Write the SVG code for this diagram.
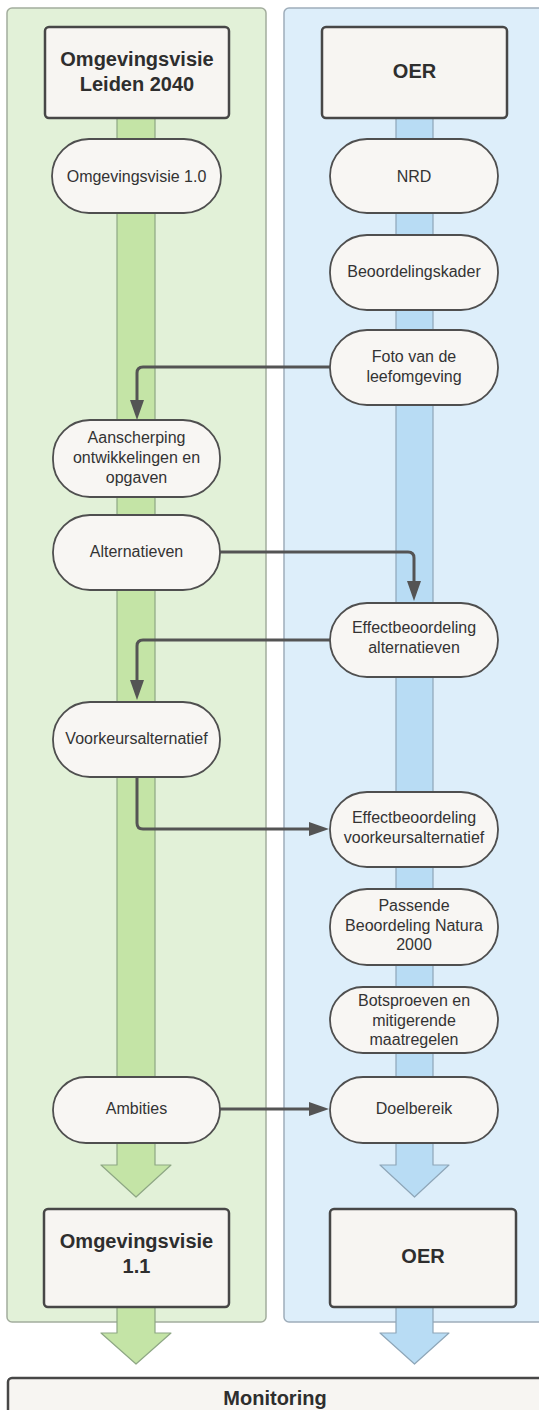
<svg xmlns="http://www.w3.org/2000/svg" width="539" height="1410" viewBox="0 0 539 1410">
  <defs>
    <marker id="ah" markerUnits="userSpaceOnUse" markerWidth="20" markerHeight="14" refX="10" refY="7" orient="auto">
      <path d="M0,0 L20,7 L0,14 Z" fill="#545454"/>
    </marker>
  </defs>
  <style>
    .lane-g { fill: #e2f1d8; stroke: #a3ad9d; stroke-width: 1.5; }
    .lane-b { fill: #ddeefa; stroke: #9eadba; stroke-width: 1.5; }
    .flow-g { fill: #c4e4a6; stroke: #8ea784; stroke-width: 1.2; stroke-linejoin: round; }
    .flow-b { fill: #b8dcf4; stroke: #8ea6b8; stroke-width: 1.2; stroke-linejoin: round; }
    .box { fill: #f7f5f2; stroke: #474747; stroke-width: 2.5; }
    .pill { fill: #f8f6f3; stroke: #4f4f4f; stroke-width: 1.8; }
    .t { font-family: "Liberation Sans", Arial, sans-serif; font-size: 16px; fill: #333333; text-anchor: middle; }
    .tb { font-family: "Liberation Sans", Arial, sans-serif; font-size: 20px; font-weight: bold; fill: #2e2e2e; text-anchor: middle; }
    .conn { fill: none; stroke: #545454; stroke-width: 3; marker-end: url(#ah); }
    .connp { fill: none; stroke: #545454; stroke-width: 3; }
  </style>

  <!-- lanes -->
  <g id="lane-omgevingsvisie">
    <rect class="lane-g" x="7" y="8" width="259" height="1314" rx="5"/>
  </g>
  <g id="lane-oer">
    <rect class="lane-b" x="284" y="8" width="262" height="1314" rx="5"/>
  </g>

  <!-- flow bars -->
  <g id="flow-bars">
    <polygon class="flow-g" points="117,118 155,118 155,1165 171,1165 136,1197 101,1165 117,1165"/>
    <polygon class="flow-b" points="396,118 433,118 433,1165 449,1165 414.5,1197 380,1165 396,1165"/>
    <polygon class="flow-g" points="117,1307 155,1307 155,1333 171,1333 136,1364 101,1333 117,1333"/>
    <polygon class="flow-b" points="396,1307 433,1307 433,1333 449,1333 414.5,1364 380,1333 396,1333"/>
  </g>

  <!-- connectors -->
  <g id="connectors">
    <path class="conn" d="M330,367 H143 Q137,367 137,373 V410"/>
    <path class="conn" d="M220,552 H408 Q414,552 414,558 V591"/>
    <path class="conn" d="M330,640 H143 Q137,640 137,646 V690"/>
    <path class="conn" d="M137,777 V823 Q137,829 143,829 H319"/>
    <path class="conn" d="M220,1109 H319"/>
  </g>

  <!-- left lane nodes -->
  <g id="n-omgevingsvisie-leiden">
    <rect class="box" x="45" y="27" width="184" height="91" rx="4"/>
    <text class="tb" x="137" y="66">Omgevingsvisie</text>
    <text class="tb" x="137" y="91">Leiden 2040</text>
  </g>
  <g id="n-omgevingsvisie-10">
    <rect class="pill" x="52" y="139" width="169" height="74" rx="37"/>
    <text class="t" x="136.5" y="182">Omgevingsvisie 1.0</text>
  </g>
  <g id="n-aanscherping">
    <rect class="pill" x="53" y="420" width="167" height="77" rx="37"/>
    <text class="t" x="136.5" y="443">Aanscherping</text>
    <text class="t" x="136.5" y="463">ontwikkelingen en</text>
    <text class="t" x="136.5" y="483">opgaven</text>
  </g>
  <g id="n-alternatieven">
    <rect class="pill" x="53" y="515" width="167" height="75" rx="37"/>
    <text class="t" x="136.5" y="557">Alternatieven</text>
  </g>
  <g id="n-voorkeursalternatief">
    <rect class="pill" x="53" y="702" width="167" height="75" rx="37"/>
    <text class="t" x="136.5" y="744">Voorkeursalternatief</text>
  </g>
  <g id="n-ambities">
    <rect class="pill" x="53" y="1077" width="167" height="66" rx="33"/>
    <text class="t" x="136.5" y="1114">Ambities</text>
  </g>
  <g id="n-omgevingsvisie-11">
    <rect class="box" x="44" y="1209" width="185" height="98" rx="4"/>
    <text class="tb" x="136.5" y="1248">Omgevingsvisie</text>
    <text class="tb" x="136.5" y="1273">1.1</text>
  </g>

  <!-- right lane nodes -->
  <g id="n-oer-top">
    <rect class="box" x="322" y="27" width="185" height="91" rx="4"/>
    <text class="tb" x="414.5" y="78">OER</text>
  </g>
  <g id="n-nrd">
    <rect class="pill" x="330" y="139" width="168" height="74" rx="37"/>
    <text class="t" x="414" y="182">NRD</text>
  </g>
  <g id="n-beoordelingskader">
    <rect class="pill" x="330" y="235" width="168" height="75" rx="37"/>
    <text class="t" x="414" y="277">Beoordelingskader</text>
  </g>
  <g id="n-foto">
    <rect class="pill" x="330" y="330" width="168" height="75" rx="37"/>
    <text class="t" x="414" y="362">Foto van de</text>
    <text class="t" x="414" y="382">leefomgeving</text>
  </g>
  <g id="n-eff-alt">
    <rect class="pill" x="330" y="603" width="168" height="74" rx="37"/>
    <text class="t" x="414" y="633">Effectbeoordeling</text>
    <text class="t" x="414" y="653">alternatieven</text>
  </g>
  <g id="n-eff-voork">
    <rect class="pill" x="330" y="792" width="168" height="75" rx="37"/>
    <text class="t" x="414" y="823">Effectbeoordeling</text>
    <text class="t" x="414" y="843">voorkeursalternatief</text>
  </g>
  <g id="n-passende">
    <rect class="pill" x="330" y="889" width="168" height="76" rx="37"/>
    <text class="t" x="414" y="911">Passende</text>
    <text class="t" x="414" y="931">Beoordeling Natura</text>
    <text class="t" x="414" y="950">2000</text>
  </g>
  <g id="n-botsproeven">
    <rect class="pill" x="330" y="987" width="168" height="66" rx="33"/>
    <text class="t" x="414" y="1006">Botsproeven en</text>
    <text class="t" x="414" y="1026">mitigerende</text>
    <text class="t" x="414" y="1045">maatregelen</text>
  </g>
  <g id="n-doelbereik">
    <rect class="pill" x="330" y="1077" width="168" height="66" rx="33"/>
    <text class="t" x="414" y="1114">Doelbereik</text>
  </g>
  <g id="n-oer-bottom">
    <rect class="box" x="330" y="1209" width="186" height="98" rx="4"/>
    <text class="tb" x="423" y="1263">OER</text>
  </g>

  <!-- monitoring -->
  <g id="n-monitoring">
    <rect class="box" x="8" y="1378" width="545" height="60" rx="4"/>
    <text class="tb" x="275" y="1405">Monitoring</text>
  </g>
</svg>
